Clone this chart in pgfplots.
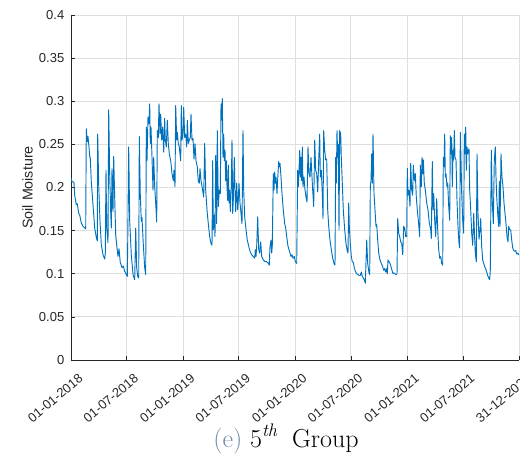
\documentclass[border=0pt]{standalone}
\usepackage{fontspec}
\usepackage{pgfplots}
\usepackage{pgfplotstable}
\pgfplotsset{compat=1.18}
\newfontfamily\arial{Liberation Sans}
\definecolor{mline}{RGB}{0,114,189}
\definecolor{mgrid}{RGB}{223,223,223}
\definecolor{maxis}{RGB}{38,38,38}
\definecolor{capblue}{RGB}{110,140,170}

\pgfplotstableread{
px v
71 0.211
72 0.207
74 0.206
74.7 0.191
76.3 0.180
77.3 0.181
78.7 0.170
79.7 0.168
81.3 0.159
83 0.155
84.7 0.153
85.7 0.152
86.3 0.268
87.3 0.253
88 0.259
89 0.247
89.7 0.236
90.3 0.234
91.3 0.207
93 0.180
94.7 0.153
96.3 0.142
97.3 0.138
97.7 0.262
98.7 0.203
100 0.161
101.3 0.134
103 0.122
104.7 0.117
105.3 0.124
106 0.220
106.7 0.153
108 0.136
108.7 0.290
109.7 0.215
110.7 0.172
111.3 0.153
112 0.222
113 0.172
113.7 0.236
114.7 0.188
115.7 0.145
117 0.130
118 0.120
119 0.129
120.3 0.113
122 0.107
123.3 0.109
124.7 0.103
126.3 0.099
127.3 0.097
127.7 0.134
128.7 0.247
129.7 0.161
131.3 0.122
133 0.099
134.7 0.093
135.7 0.153
136.7 0.107
137.7 0.097
138.7 0.095
139.3 0.259
140.3 0.191
141.3 0.161
142 0.165
143.3 0.134
144.7 0.107
145.7 0.099
146.3 0.270
147 0.231
148 0.282
149 0.274
149.7 0.297
150.3 0.251
151 0.270
152 0.235
153 0.197
153.7 0.235
154.7 0.201
155.7 0.182
156.7 0.160
157.3 0.266
158.3 0.258
159 0.297
160 0.262
160.7 0.285
161.7 0.255
162.7 0.270
163.7 0.241
164.7 0.280
165.3 0.255
166.3 0.247
167.3 0.278
168.3 0.251
169.3 0.239
170.7 0.231
172 0.216
173.3 0.208
174 0.220
175 0.201
175.7 0.295
176.7 0.255
177.3 0.264
178.3 0.251
179.3 0.247
180.7 0.231
181.3 0.295
182 0.255
183 0.262
183.7 0.293
184.7 0.258
185.7 0.262
186.7 0.247
187.3 0.278
188.3 0.251
189.3 0.255
190.3 0.258
191 0.285
192 0.255
193 0.257
194 0.233
195 0.251
196 0.231
197.3 0.224
198.3 0.207
199.3 0.205
200 0.222
201 0.208
202.3 0.199
203.7 0.189
204.7 0.251
205.7 0.197
207 0.174
208.3 0.158
209.7 0.143
211 0.135
212 0.133
212.7 0.231
213.3 0.151
214.3 0.168
215 0.143
215.7 0.237
216.7 0.158
217.3 0.266
218.3 0.178
219.3 0.197
220.3 0.193
221 0.297
221.7 0.278
222.3 0.303
223 0.235
223.7 0.262
224.3 0.231
225 0.243
225.7 0.208
226.3 0.231
227 0.201
227.7 0.185
228.3 0.226
229 0.182
229.7 0.197
230.3 0.172
231.3 0.201
232 0.255
232.7 0.170
233.3 0.185
234.3 0.235
235 0.197
235.7 0.172
236.7 0.205
237.7 0.174
238.3 0.185
239 0.205
240 0.182
241 0.170
242 0.158
243 0.266
243.7 0.197
244.7 0.166
246 0.151
247.3 0.139
248.7 0.132
250 0.126
251.7 0.122
253.3 0.120
254.7 0.118
255.3 0.128
256 0.120
256.7 0.132
257.7 0.166
258.7 0.128
259.7 0.124
260.7 0.137
261.7 0.120
263.3 0.116
265 0.114
266.7 0.114
268.3 0.112
269.3 0.110
270 0.132
271 0.139
271.7 0.124
272.3 0.133
273.3 0.216
274 0.197
274.7 0.218
275.3 0.205
276 0.212
277 0.193
277.7 0.210
278.7 0.230
279.3 0.224
280 0.228
281 0.212
282 0.193
283.3 0.174
284.7 0.158
285.7 0.153
286.7 0.143
288 0.132
289 0.128
290 0.124
291 0.120
292 0.122
293 0.118
294.3 0.120
295.3 0.114
296.7 0.112
297.7 0.220
298.3 0.201
299 0.220
299.7 0.243
300.3 0.212
301 0.235
301.7 0.208
302.3 0.247
303 0.201
304 0.212
305 0.197
306 0.189
307 0.183
308 0.247
309 0.216
310 0.212
311 0.235
312 0.212
312.7 0.197
313.7 0.178
314.7 0.255
315.7 0.220
316.7 0.216
317.7 0.195
318.7 0.232
319.7 0.262
320.3 0.212
321.3 0.220
322.3 0.193
323 0.164
323.7 0.266
324.7 0.243
325.7 0.232
326.7 0.233
327.7 0.174
328.7 0.155
330 0.139
331.3 0.128
332.7 0.118
334 0.112
335 0.110
335.7 0.235
336.3 0.205
337 0.266
337.7 0.235
338.3 0.250
339 0.151
339.7 0.266
340.7 0.262
341.3 0.235
342.3 0.205
343.3 0.174
344.7 0.151
346 0.135
347.3 0.126
348 0.124
348.7 0.182
349.3 0.155
350.3 0.135
351.3 0.120
352.3 0.114
353.3 0.113
354.3 0.107
355.3 0.103
356.7 0.100
358 0.099
359.3 0.098
360.3 0.098
361.3 0.102
362.3 0.097
363.3 0.095
364.3 0.093
365.3 0.089
366.7 0.139
367.7 0.112
369 0.101
369.7 0.099
370.3 0.201
371 0.208
371.7 0.239
372.3 0.205
373 0.262
374 0.193
375 0.174
376 0.155
376.7 0.157
377.7 0.139
378.7 0.124
380 0.116
381.3 0.112
382.7 0.108
383.7 0.104
384.7 0.106
385.7 0.102
386.7 0.106
387.3 0.100
388 0.116
389 0.114
390 0.112
391 0.108
392 0.104
393 0.100
394 0.101
395 0.100
396 0.099
397 0.100
397.7 0.164
398.7 0.147
399.7 0.143
400.7 0.137
401.7 0.135
402.7 0.122
403.7 0.155
404.7 0.153
405.7 0.143
406.7 0.143
407.3 0.222
408 0.191
409 0.197
410 0.178
410.7 0.228
411.7 0.197
412.7 0.191
413.3 0.226
414.3 0.208
415.3 0.216
416.3 0.189
417.3 0.174
418.7 0.157
419.7 0.143
420.3 0.226
421.3 0.201
422 0.235
422.7 0.216
423.3 0.232
424.3 0.205
425.3 0.197
426.7 0.182
428 0.174
429.3 0.159
430.7 0.151
431.3 0.141
432.3 0.230
433 0.174
433.7 0.193
434.7 0.162
435.7 0.143
436.7 0.187
437.7 0.151
438.7 0.128
439.7 0.118
440.7 0.120
441.7 0.112
442.7 0.110
443.3 0.235
444 0.224
444.7 0.262
445.3 0.212
446 0.216
447 0.201
447.7 0.205
448.7 0.178
449.7 0.162
450.3 0.260
451 0.239
451.7 0.258
452.3 0.201
453 0.243
453.7 0.232
454.3 0.266
455 0.235
456 0.232
457 0.185
458 0.155
459 0.135
459.7 0.130
460.3 0.264
461 0.232
461.7 0.193
462.7 0.162
463.7 0.147
464.3 0.262
465 0.239
465.7 0.270
466.3 0.220
467 0.247
467.7 0.239
468.3 0.243
469 0.245
469.7 0.197
470.7 0.174
471.7 0.147
472.7 0.133
473.7 0.170
474.7 0.140
475.3 0.124
476.3 0.114
477 0.239
478 0.170
479 0.140
480 0.151
480.7 0.164
481.7 0.131
482.7 0.116
483.7 0.112
484.7 0.108
485.7 0.106
486.7 0.102
487.7 0.098
488.7 0.095
489.7 0.093
490.3 0.104
491.3 0.243
492.3 0.182
493.3 0.158
494.3 0.232
495.3 0.247
496 0.212
496.7 0.189
497.7 0.170
498.7 0.155
499.3 0.207
500 0.155
501 0.239
502 0.212
503 0.201
504 0.182
505 0.170
506 0.158
507 0.143
508 0.137
508.7 0.155
509.7 0.151
510.7 0.151
511.7 0.139
512.7 0.130
513.7 0.127
514.7 0.126
515.7 0.127
516.7 0.123
517.7 0.124
518.7 0.122
519 0.123
}\moist

\begin{document}
\begin{tikzpicture}
\begin{axis}[
  scale only axis,
  width=336pt, height=258.75pt,
  xmin=0, xmax=1460, ymin=0, ymax=0.4,
  axis x line=bottom, axis y line=left,
  axis line style={-, color=maxis, line width=0.6pt},
  tick align=inside,
  major tick length=3pt,
  tick style={color=maxis, line width=0.5pt},
  grid=major,
  major grid style={color=mgrid, line width=0.6pt},
  xtick={0,181,365,546,730,912,1096,1277,1460},
  xticklabels={01-01-2018,01-07-2018,01-01-2019,01-07-2019,01-01-2020,01-07-2020,01-01-2021,01-07-2021,31-12-2021},
  ytick={0,0.05,0.1,0.15,0.2,0.25,0.3,0.35,0.4},
  yticklabels={0,0.05,0.1,0.15,0.2,0.25,0.3,0.35,0.4},
  scaled y ticks=false,
  tick label style={font=\arial\fontsize{9.75}{11}\selectfont, color=maxis},
  /pgf/number format/assume math mode=true,
  x tick label style={xshift=5.5pt, yshift=-5pt, rotate=40, anchor=north east},
  y tick label style={xshift=-1.5pt},
  ylabel={Soil Moisture},
  ylabel style={font=\arial\fontsize{10.7}{12}\selectfont, color=maxis, at={(axis description cs:-0.097,0.5)}, anchor=center},
]
\addplot[mline, line width=0.7pt, line join=round, mark=none]
  table[x expr={(\thisrow{px}-71)*1460/448}, y=v] {\moist};
\end{axis}
\node[anchor=base, font=\fontsize{19.5}{22}\selectfont] at ([xshift=161.25pt, yshift=-65.25pt]current axis.south west)
  {\textcolor{capblue}{(e)} 5\textsuperscript{\itshape th}\hspace{0.25em} Group};
\pgfresetboundingbox
\path[use as bounding box] ([xshift=-53.25pt,yshift=-72pt]current axis.south west) rectangle ([xshift=0.75pt,yshift=11.25pt]current axis.north east);
\end{tikzpicture}
\end{document}
